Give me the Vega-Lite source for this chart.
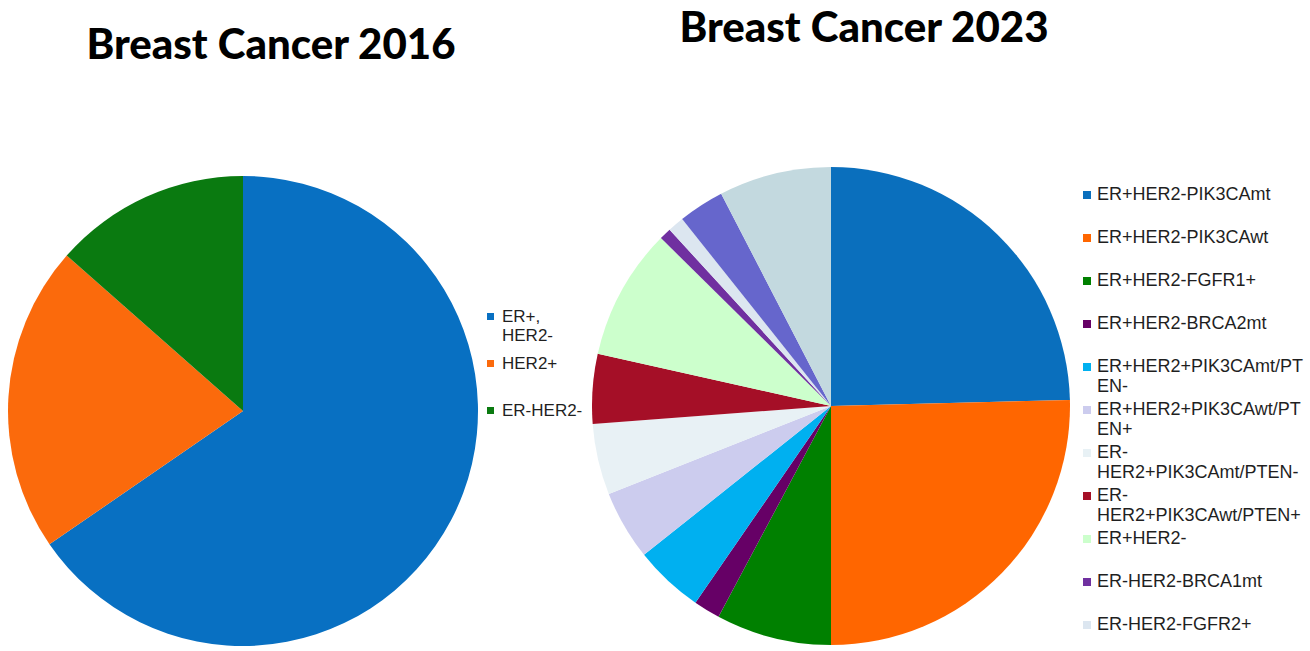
{
  "$schema": "https://vega.github.io/schema/vega-lite/v6.json",
  "padding": {"left": 0, "top": 8, "right": 0, "bottom": 0},
  "autosize": {"type": "pad"},
  "background": "white",
  "datasets": {
    "y2016": [
      {"subtype": "ER+, HER2-", "share": 65.4, "rank": 1},
      {"subtype": "HER2+", "share": 21.1, "rank": 2},
      {"subtype": "ER-HER2-", "share": 13.5, "rank": 3}
    ],
    "y2023": [
      {"subtype": "ER+HER2-PIK3CAmt", "share": 24.6, "rank": 1},
      {"subtype": "ER+HER2-PIK3CAwt", "share": 25.4, "rank": 2},
      {"subtype": "ER+HER2-FGFR1+", "share": 7.8, "rank": 3},
      {"subtype": "ER+HER2-BRCA2mt", "share": 1.8, "rank": 4},
      {"subtype": "ER+HER2+PIK3CAmt/PTEN-", "share": 4.7, "rank": 5},
      {"subtype": "ER+HER2+PIK3CAwt/PTEN+", "share": 4.7, "rank": 6},
      {"subtype": "ER-HER2+PIK3CAmt/PTEN-", "share": 4.8, "rank": 7},
      {"subtype": "ER-HER2+PIK3CAwt/PTEN+", "share": 4.7, "rank": 8},
      {"subtype": "ER+HER2-", "share": 8.9, "rank": 9},
      {"subtype": "ER-HER2-BRCA1mt", "share": 0.8, "rank": 10},
      {"subtype": "ER-HER2-FGFR2+", "share": 1.1, "rank": 11},
      {"subtype": "Unlabeled 1", "share": 3.1, "rank": 12},
      {"subtype": "Unlabeled 2", "share": 7.6, "rank": 13}
    ]
  },
  "spacing": 105,
  "bounds": "flush",
  "resolve": {"scale": {"color": "independent"}, "legend": {"color": "independent"}},
  "hconcat": [
    {
      "width": 486,
      "height": 480,
      "title": {"text": "Breast Cancer 2016", "font": "Lato", "fontSize": 42, "fontWeight": 900, "color": "#000000", "anchor": "middle", "baseline": "alphabetic", "offset": 70, "dx": 28},
      "data": {"name": "y2016"},
      "mark": {"type": "arc", "outerRadius": 235},
      "encoding": {
        "theta": {"field": "share", "type": "quantitative", "stack": true},
        "order": {"field": "rank", "type": "quantitative"},
        "color": {
          "field": "subtype",
          "type": "nominal",
          "scale": {"domain": ["ER+, HER2-", "HER2+", "ER-HER2-"], "range": ["#0870c2", "#fb6a0c", "#0a7a10"]},
          "legend": {
            "title": null,
            "orient": "none",
            "legendX": 482,
            "legendY": 137,
            "padding": 0,
            "symbolType": "square",
            "symbolSize": 49,
            "symbolStrokeWidth": 0,
            "labelFont": "Liberation Sans",
            "labelFontSize": 17,
            "labelColor": "#1f1f1f",
            "labelLimit": 300,
            "labelOffset": 3,
            "rowPadding": 10,
            "labelExpr": "datum.label == 'ER+, HER2-' ? ['ER+,', 'HER2-'] : [datum.label, '']"
          }
        }
      }
    },
    {
      "width": 480,
      "height": 470,
      "title": {"text": "Breast Cancer 2023", "font": "Lato", "fontSize": 42, "fontWeight": 900, "color": "#000000", "anchor": "middle", "baseline": "alphabetic", "offset": 83, "dx": 33},
      "data": {"name": "y2023"},
      "mark": {"type": "arc", "outerRadius": 239},
      "encoding": {
        "theta": {"field": "share", "type": "quantitative", "stack": true},
        "order": {"field": "rank", "type": "quantitative"},
        "color": {
          "field": "subtype",
          "type": "nominal",
          "scale": {
            "domain": ["ER+HER2-PIK3CAmt", "ER+HER2-PIK3CAwt", "ER+HER2-FGFR1+", "ER+HER2-BRCA2mt", "ER+HER2+PIK3CAmt/PTEN-", "ER+HER2+PIK3CAwt/PTEN+", "ER-HER2+PIK3CAmt/PTEN-", "ER-HER2+PIK3CAwt/PTEN+", "ER+HER2-", "ER-HER2-BRCA1mt", "ER-HER2-FGFR2+", "Unlabeled 1", "Unlabeled 2"],
            "range": ["#0a6fbd", "#ff6600", "#008000", "#660066", "#00b0f0", "#ccccee", "#e8f1f5", "#a50f27", "#ccffcc", "#7030a0", "#dce6f0", "#6666cc", "#c3d9df"]
          },
          "legend": {
            "title": null,
            "orient": "none",
            "legendX": 487,
            "legendY": 15,
            "padding": 0,
            "values": ["ER+HER2-PIK3CAmt", "ER+HER2-PIK3CAwt", "ER+HER2-FGFR1+", "ER+HER2-BRCA2mt", "ER+HER2+PIK3CAmt/PTEN-", "ER+HER2+PIK3CAwt/PTEN+", "ER-HER2+PIK3CAmt/PTEN-", "ER-HER2+PIK3CAwt/PTEN+", "ER+HER2-", "ER-HER2-BRCA1mt", "ER-HER2-FGFR2+"],
            "symbolType": "square",
            "symbolSize": 64,
            "symbolStrokeWidth": 0,
            "labelFont": "Liberation Sans",
            "labelFontSize": 18,
            "labelColor": "#1f1f1f",
            "labelLimit": 300,
            "labelOffset": 1,
            "rowPadding": 5,
            "labelExpr": "datum.label == 'ER+HER2+PIK3CAmt/PTEN-' ? ['ER+HER2+PIK3CAmt/PT', 'EN-'] : datum.label == 'ER+HER2+PIK3CAwt/PTEN+' ? ['ER+HER2+PIK3CAwt/PT', 'EN+'] : datum.label == 'ER-HER2+PIK3CAmt/PTEN-' ? ['ER-', 'HER2+PIK3CAmt/PTEN-'] : datum.label == 'ER-HER2+PIK3CAwt/PTEN+' ? ['ER-', 'HER2+PIK3CAwt/PTEN+'] : [datum.label, '']"
          }
        }
      }
    }
  ],
  "config": {"view": {"stroke": null}}
}
